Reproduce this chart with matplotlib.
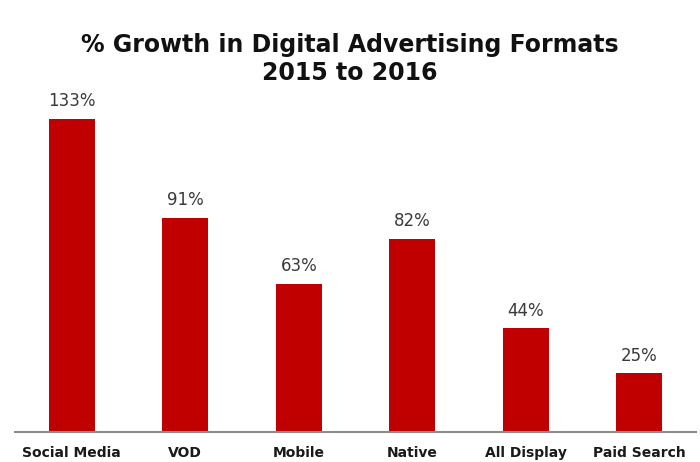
import matplotlib
matplotlib.use("Agg")
import matplotlib.pyplot as plt

categories = ["Social Media", "VOD", "Mobile", "Native", "All Display", "Paid Search"]
values = [133, 91, 63, 82, 44, 25]
value_labels = ["133%", "91%", "63%", "82%", "44%", "25%"]
title = "% Growth in Digital Advertising Formats\n2015 to 2016"

fig = plt.figure(figsize=(7.0, 4.62), dpi=100)
ax = fig.add_axes([15/700, 1 - 432/462, 681/700, 330/462])

x = list(range(len(categories)))
bars = ax.bar(x, values, width=0.405, color="#C00000", zorder=2)
for xi, v, lab in zip(x, values, value_labels):
    ax.annotate(lab, (xi, v), xytext=(0, 6), textcoords="offset points",
                ha="center", va="bottom", fontsize=12, color="#3a3a3a")

ax.set_xlim(-0.5, 5.5)
ax.set_ylim(0, 140)
ax.set_xticks(x)
ax.set_xticklabels(categories, fontsize=10, fontweight="bold", color="#1a1a1a")
ax.tick_params(axis="x", length=0, pad=10)
ax.set_yticks([])
for s in ["top", "right", "left"]:
    ax.spines[s].set_visible(False)
ax.spines["bottom"].set_color("#8c8c8c")
ax.spines["bottom"].set_linewidth(1.5)

fig.text(0.5, 1 - 59/462, title, ha="center", va="center", fontsize=17,
         fontweight="bold", color="#111111", linespacing=1.2)

fig.savefig("out.png", dpi=100)
